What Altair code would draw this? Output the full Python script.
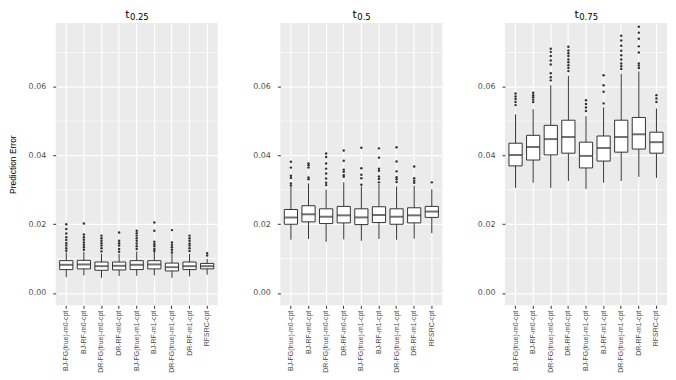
import altair as alt
import pandas as pd

CATS = ["BJ-FG(true)-m0-cpt", "BJ-RF-m0-cpt", "DR-FG(true)-m0-cpt", "DR-RF-m0-cpt",
        "BJ-FG(true)-m1-cpt", "BJ-RF-m1-cpt", "DR-FG(true)-m1-cpt", "DR-RF-m1-cpt",
        "RFSRC-cpt"]

SUBS = ["0.25", "0.5", "0.75"]
Y_TICKS = [0.0, 0.02, 0.04, 0.06]
Y_MINOR = [0.01, 0.03, 0.05, 0.07]

# ---- t0.25 ----
Q1_A = [0.0068, 0.0070, 0.0066, 0.0067, 0.0068, 0.0070, 0.0064, 0.0068, 0.0070]
MED_A = [0.0082, 0.0083, 0.0078, 0.0079, 0.0082, 0.0083, 0.0075, 0.0078, 0.0078]
Q3_A = [0.0094, 0.0095, 0.0090, 0.0090, 0.0094, 0.0094, 0.0087, 0.0090, 0.0086]
LO_A = [0.0046, 0.0051, 0.0044, 0.0049, 0.0050, 0.0051, 0.0044, 0.0048, 0.0053]
HI_A = [0.0118, 0.0120, 0.0114, 0.0114, 0.0121, 0.0121, 0.0114, 0.0114, 0.0099]
OUT_A = [
    [0.0200, 0.0186, 0.0173, 0.0162, 0.0154, 0.0145, 0.0138, 0.0130, 0.0123],
    [0.0202, 0.0170, 0.0162, 0.0155, 0.0147, 0.0140, 0.0133, 0.0126],
    [0.0167, 0.0159, 0.0152, 0.0145, 0.0138, 0.0130, 0.0121],
    [0.0176, 0.0152, 0.0145, 0.0138, 0.0128, 0.0120],
    [0.0181, 0.0174, 0.0167, 0.0159, 0.0152, 0.0144, 0.0136, 0.0128],
    [0.0205, 0.0181, 0.0149, 0.0142, 0.0136, 0.0128, 0.0122],
    [0.0183, 0.0147, 0.0140, 0.0133, 0.0126, 0.0118],
    [0.0167, 0.0159, 0.0152, 0.0144, 0.0138, 0.0130, 0.0122],
    [0.0116, 0.0109],
]

# ---- t0.5 ----
Q1_B = [0.0200, 0.0207, 0.0202, 0.0204, 0.0199, 0.0205, 0.0200, 0.0204, 0.0220]
MED_B = [0.0220, 0.0229, 0.0222, 0.0226, 0.0220, 0.0227, 0.0222, 0.0226, 0.0237]
Q3_B = [0.0243, 0.0254, 0.0245, 0.0252, 0.0245, 0.0251, 0.0245, 0.0248, 0.0252]
LO_B = [0.0155, 0.0157, 0.0149, 0.0156, 0.0152, 0.0157, 0.0155, 0.0158, 0.0174]
HI_B = [0.0309, 0.0319, 0.0301, 0.0322, 0.0310, 0.0317, 0.0310, 0.0312, 0.0302]
OUT_B = [
    [0.0382, 0.0365, 0.0341, 0.0335, 0.0319, 0.0313],
    [0.0377, 0.0372, 0.0365, 0.0336, 0.0331],
    [0.0406, 0.0396, 0.0377, 0.0362, 0.0348, 0.0333, 0.0321, 0.0314],
    [0.0415, 0.0385, 0.0359, 0.0353, 0.0343, 0.0338],
    [0.0423, 0.0363, 0.0344, 0.0334, 0.0315],
    [0.0421, 0.0394, 0.0362, 0.0356, 0.0339, 0.0332, 0.0322],
    [0.0424, 0.0383, 0.0354, 0.0337, 0.0331, 0.0323],
    [0.0368, 0.0334, 0.0327, 0.0321],
    [0.0322],
]

# ---- t0.75 ----
Q1_C = [0.0370, 0.0387, 0.0402, 0.0407, 0.0364, 0.0384, 0.0410, 0.0419, 0.0407]
MED_C = [0.0402, 0.0425, 0.0448, 0.0454, 0.0399, 0.0422, 0.0454, 0.0462, 0.0439]
Q3_C = [0.0436, 0.0459, 0.0488, 0.0503, 0.0439, 0.0457, 0.0503, 0.0511, 0.0468]
LO_C = [0.0306, 0.0321, 0.0306, 0.0326, 0.0303, 0.0321, 0.0326, 0.0338, 0.0335]
HI_C = [0.0520, 0.0535, 0.0605, 0.0632, 0.0515, 0.0540, 0.0638, 0.0645, 0.0537]
OUT_C = [
    [0.0581, 0.0572, 0.0565, 0.0556, 0.0547],
    [0.0583, 0.0576, 0.0570, 0.0563, 0.0556],
    [0.0711, 0.0702, 0.0690, 0.0677, 0.0665, 0.0640, 0.0628, 0.0619],
    [0.0717, 0.0706, 0.0698, 0.0690, 0.0680, 0.0672, 0.0663, 0.0655, 0.0646],
    [0.0561, 0.0550, 0.0540, 0.0530],
    [0.0634, 0.0605, 0.0586, 0.0552],
    [0.0749, 0.0735, 0.0720, 0.0705, 0.0692, 0.0680, 0.0668, 0.0660, 0.0652],
    [0.0775, 0.0758, 0.0740, 0.0718, 0.0700, 0.0668, 0.0662, 0.0655],
    [0.0576, 0.0566, 0.0556],
]

PANELS = [
    (Q1_A, MED_A, Q3_A, LO_A, HI_A, OUT_A),
    (Q1_B, MED_B, Q3_B, LO_B, HI_B, OUT_B),
    (Q1_C, MED_C, Q3_C, LO_C, HI_C, OUT_C),
]

W, H = 163, 284
WIDE = "DejaVu Sans"
NARROW = "Liberation Sans"
DARK = "#333333"


def panel(idx):
    q1, med, q3, lo, hi, outs = PANELS[idx]
    sub = SUBS[idx]
    box_df = pd.DataFrame({"cat": CATS, "q1": q1, "med": med, "q3": q3, "lo": lo, "hi": hi})
    out_df = pd.DataFrame([(c, v) for c, vs in zip(CATS, outs) for v in vs], columns=["cat", "val"])
    minor_df = pd.DataFrame({"m": Y_MINOR})

    xaxis = alt.Axis(title=None, grid=True, gridColor="white", gridWidth=1.2, domain=False,
                     ticks=True, tickColor=DARK, tickSize=3, tickWidth=1, bandPosition=0.5,
                     labelAngle=270, labelAlign="right", labelBaseline="middle",
                     labelFont=NARROW, labelFontSize=7, labelColor="#4D4D4D", labelPadding=2)
    xscale = alt.Scale(domain=CATS, paddingInner=0, paddingOuter=0.1)
    yscale = alt.Scale(domain=[-0.0036, 0.0786], nice=False, zero=False)
    ytitle = "Prediction Error" if idx == 0 else None
    yaxis = alt.Axis(values=Y_TICKS, format=".2f", grid=True, gridColor="white", gridWidth=1.2,
                     domain=False, ticks=True, tickColor=DARK, tickSize=3, tickWidth=1,
                     labelFont=WIDE, labelFontSize=8, labelColor="#4D4D4D", labelPadding=7,
                     title=ytitle, titleFont=NARROW, titleFontSize=8.5, titleFontWeight="normal",
                     titleColor="black", titlePadding=11)
    X = alt.X("cat:N", sort=CATS, scale=xscale, axis=xaxis)

    minor = alt.Chart(minor_df).mark_rule(color="white", strokeWidth=0.6).encode(
        y=alt.Y("m:Q", scale=yscale, axis=yaxis))
    whisk = alt.Chart(box_df).mark_rule(color=DARK, strokeWidth=1).encode(
        x=X, y=alt.Y("lo:Q", scale=yscale, axis=yaxis), y2="hi:Q")
    box = alt.Chart(box_df).mark_bar(width=alt.RelativeBandSize(0.75), fill="white",
                                     stroke=DARK, strokeWidth=1).encode(
        x=X, y=alt.Y("q1:Q", scale=yscale, axis=yaxis), y2="q3:Q")
    medl = alt.Chart(box_df).mark_tick(color=DARK, thickness=2, size=13.3).encode(
        x=X, y=alt.Y("med:Q", scale=yscale, axis=yaxis))
    pts = alt.Chart(out_df).mark_circle(size=6, color=DARK, opacity=1).encode(
        x=X, y=alt.Y("val:Q", scale=yscale, axis=yaxis))

    sub_w = 8.5 * (0.318 + 0.636 * (len(sub) - 1))
    t_w = 11 * 0.392
    xt = W / 2 - (t_w + sub_w) / 2 + t_w
    tdf = pd.DataFrame({"s": ["t"]})
    sdf = pd.DataFrame({"s": [sub]})
    t_txt = alt.Chart(tdf).mark_text(font=WIDE, fontSize=11, align="right", baseline="alphabetic",
                                     color="black").encode(
        text="s:N", x=alt.value(xt), y=alt.value(-5))
    s_txt = alt.Chart(sdf).mark_text(font=WIDE, fontSize=8.5, align="left", baseline="alphabetic",
                                     color="black").encode(
        text="s:N", x=alt.value(xt + 0.5), y=alt.value(-3.5))

    return alt.layer(minor, whisk, box, medl, pts, t_txt, s_txt).properties(width=W, height=H)


chart = alt.hconcat(panel(0), panel(1), panel(2), spacing=34).properties(
    padding={"left": 0, "top": 0, "right": 0, "bottom": 0},
    background="white",
).configure_view(fill="#EBEBEB", stroke=None)

chart.save("out.html", embed_options={"renderer": "svg", "actions": False})
